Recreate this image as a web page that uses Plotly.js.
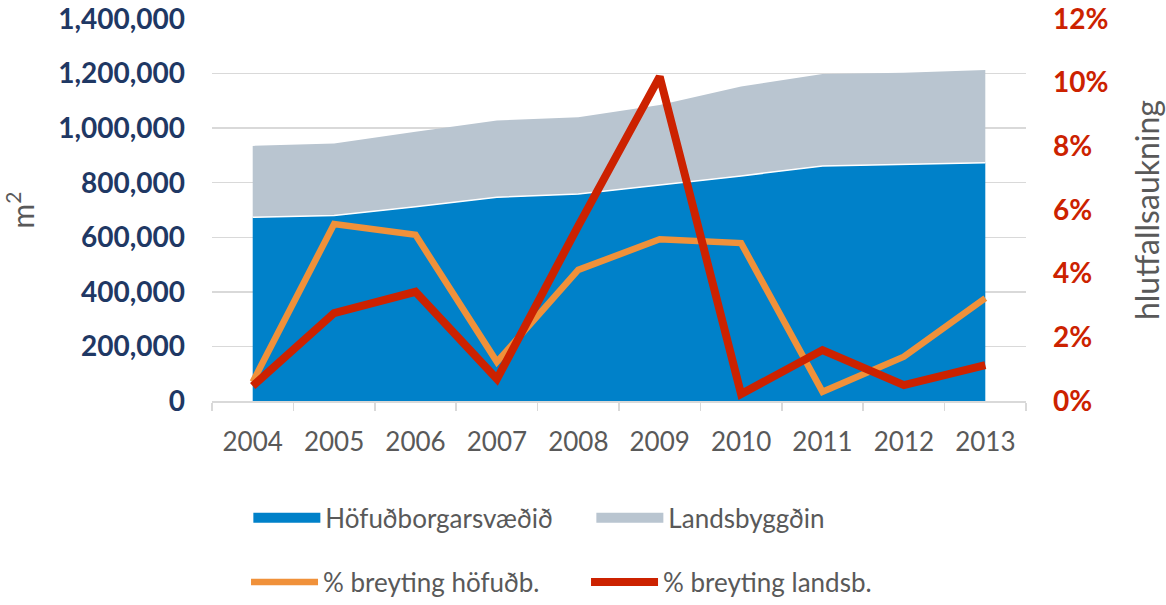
<!DOCTYPE html>
<html>
<head>
<meta charset="utf-8">
<script src="https://cdn.plot.ly/plotly-3.0.1.min.js"></script>
<style>
  html, body { margin: 0; padding: 0; background: #fff; }
  #chart { width: 1166px; height: 605px; }
</style>
</head>
<body>
<div id="chart"></div>
<script>
// years on the category axis
var years = ['2004', '2005', '2006', '2007', '2008', '2009', '2010', '2011', '2012', '2013'];

// floor area, m2 (stacked)
var hofudborg = [673000, 680000, 712000, 747000, 759000, 792000, 825000, 861000, 866000, 873000];
var landsbyggd = [262000, 264000, 275000, 281000, 281000, 293000, 328000, 337000, 337000, 340000];

// yearly change, %
var breytingHofudb = [0.6, 5.56, 5.22, 1.23, 4.12, 5.08, 4.96, 0.29, 1.39, 3.23];
var breytingLandsb = [0.47, 2.76, 3.43, 0.69, 5.5, 10.19, 0.22, 1.6, 0.5, 1.13];

var grey = '#595959';
var gridColor = '#d9d9d9';
var blue = '#0081c9';
var lightBlue = '#b9c5d0';

var hofTrace = {
  x: years,
  y: hofudborg,
  name: 'Höfuðborgarsvæðið',
  type: 'scatter',
  mode: 'lines',
  stackgroup: 'area',
  fillcolor: blue,
  line: {color: '#ffffff', width: 1.5},
  showlegend: false,
  hoverinfo: 'skip'
};

var landTrace = {
  x: years,
  y: landsbyggd,
  name: 'Landsbyggðin',
  type: 'scatter',
  mode: 'lines',
  stackgroup: 'area',
  fillcolor: lightBlue,
  line: {color: lightBlue, width: 0},
  showlegend: false,
  hoverinfo: 'skip'
};

// legend swatches for the areas (thick lines look like the boxes)
var hofKey = {
  x: [years[0]], y: [null],
  name: 'Höfuðborgarsvæðið',
  type: 'scatter', mode: 'lines',
  line: {color: blue, width: 14},
  legend: 'legend'
};
var landKey = {
  x: [years[0]], y: [null],
  name: 'Landsbyggðin',
  type: 'scatter', mode: 'lines',
  line: {color: lightBlue, width: 14},
  legend: 'legend'
};

var hofLine = {
  x: years,
  y: breytingHofudb,
  name: '% breyting höfuðb.',
  type: 'scatter',
  mode: 'lines',
  yaxis: 'y2',
  line: {color: '#f0913a', width: 6.5},
  legend: 'legend2',
  hoverinfo: 'skip'
};

var landLine = {
  x: years,
  y: breytingLandsb,
  name: '% breyting landsb.',
  type: 'scatter',
  mode: 'lines',
  yaxis: 'y2',
  line: {color: '#cc2200', width: 8},
  legend: 'legend2',
  hoverinfo: 'skip'
};

var layout = {
  width: 1166,
  height: 605,
  margin: {l: 212, r: 140, t: 19, b: 204},
  paper_bgcolor: '#ffffff',
  plot_bgcolor: '#ffffff',
  font: {family: 'Lato, sans-serif', color: grey},
  showlegend: true,
  xaxis: {
    type: 'category',
    range: [-0.5, 9.5],
    showgrid: false,
    showline: true,
    linecolor: gridColor,
    linewidth: 1.5,
    ticks: 'outside',
    tickson: 'boundaries',
    ticklen: 8,
    tickcolor: gridColor,
    tickwidth: 1.5,
    tickfont: {size: 26, color: grey},
    ticklabelstandoff: 17,
    zeroline: false
  },
  yaxis: {
    range: [0, 1400000],
    dtick: 200000,
    tickformat: ',d',
    showgrid: true,
    gridcolor: gridColor,
    gridwidth: 1.5,
    zeroline: false,
    ticks: '',
    tickfont: {size: 28, color: '#1f3864', weight: 'bold'},
    ticklabelstandoff: 26,
    title: {text: 'm<sup>2</sup>', font: {size: 30, color: grey}, standoff: 22}
  },
  yaxis2: {
    overlaying: 'y',
    side: 'right',
    range: [0, 12],
    dtick: 2,
    ticksuffix: '%',
    showgrid: false,
    zeroline: false,
    ticks: '',
    tickfont: {size: 28, color: '#cc2200', weight: 'bold'},
    ticklabelstandoff: 26,
    title: {text: 'hlutfallsaukning', font: {size: 32, color: grey}, standoff: 30}
  },
  legend: {
    orientation: 'h',
    xref: 'container',
    yref: 'container',
    x: 0.213,
    xanchor: 'left',
    y: 0.144,
    yanchor: 'middle',
    entrywidth: 261,
    itemwidth: 67,
    font: {size: 26, color: grey},
    traceorder: 'normal'
  },
  legend2: {
    orientation: 'h',
    xref: 'container',
    yref: 'container',
    x: 0.211,
    xanchor: 'left',
    y: 0.038,
    yanchor: 'middle',
    entrywidth: 258,
    itemwidth: 67,
    font: {size: 26, color: grey},
    traceorder: 'normal'
  }
};

var data = [hofTrace, landTrace, hofLine, landLine, hofKey, landKey];

Plotly.newPlot('chart', data, layout, {displayModeBar: false, staticPlot: true});
</script>
</body>
</html>
